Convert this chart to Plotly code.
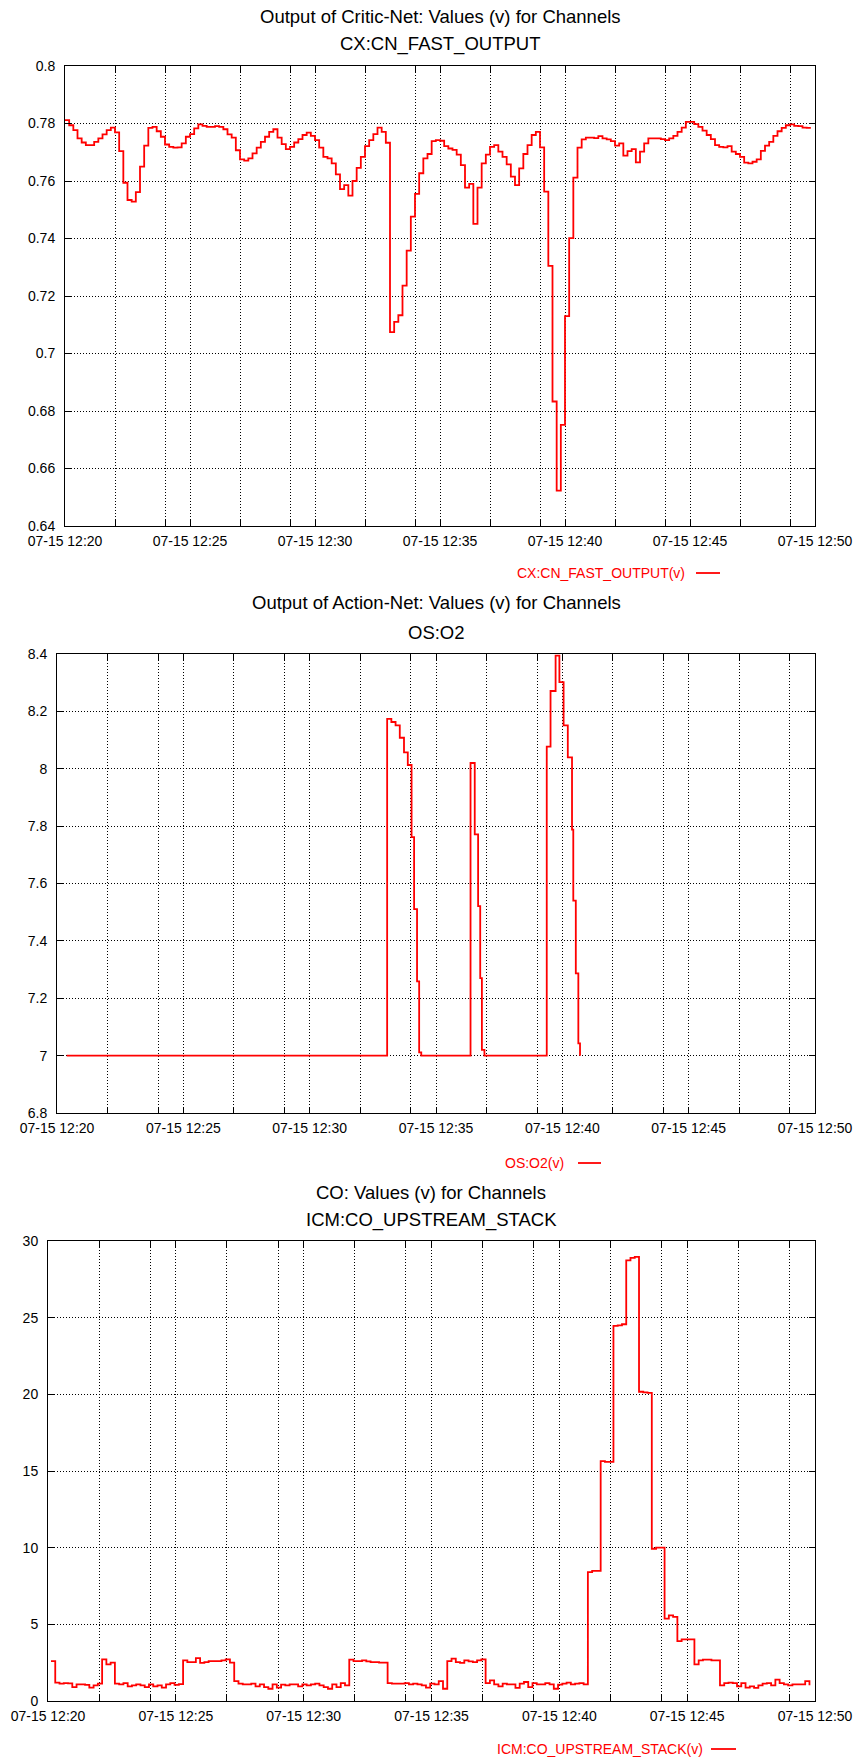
import pandas as pd
import plotly.graph_objects as go

W, H = 854, 1762

# ---------------- data ----------------
critic_start = "2024-07-15 12:20:00"
critic_values = [
    0.7812, 0.7794, 0.7777, 0.7748, 0.7734, 0.7725, 0.7725, 0.7736, 0.7748, 0.7762,
    0.7777, 0.7786, 0.7769, 0.7704, 0.7594, 0.7534, 0.7528, 0.7561, 0.7650, 0.7723,
    0.7785, 0.7788, 0.7773, 0.7754, 0.7727, 0.7719, 0.7716, 0.7717, 0.7731, 0.7754,
    0.7763, 0.7783, 0.7797, 0.7792, 0.7788, 0.7788, 0.7791, 0.7788, 0.7780, 0.7762,
    0.7751, 0.7707, 0.7675, 0.7671, 0.7679, 0.7696, 0.7716, 0.7736, 0.7754, 0.7771,
    0.7780, 0.7751, 0.7728, 0.7711, 0.7719, 0.7734, 0.7746, 0.7760, 0.7768, 0.7757,
    0.7742, 0.7716, 0.7684, 0.7679, 0.7661, 0.7623, 0.7572, 0.7586, 0.7549, 0.7600,
    0.7646, 0.7684, 0.7721, 0.7742, 0.7763, 0.7786, 0.7771, 0.7733, 0.7074, 0.7110,
    0.7133, 0.7236, 0.7358, 0.7476, 0.7555, 0.7627, 0.7679, 0.7694, 0.7739, 0.7742,
    0.7740, 0.7721, 0.7713, 0.7708, 0.7692, 0.7655, 0.7577, 0.7590, 0.7451, 0.7577,
    0.7661, 0.7692, 0.7719, 0.7725, 0.7702, 0.7684, 0.7658, 0.7615, 0.7586, 0.7644,
    0.7694, 0.7725, 0.7760, 0.7771, 0.7717, 0.7563, 0.7305, 0.6833, 0.6523, 0.6752,
    0.7130, 0.7401, 0.7612, 0.7716, 0.7745, 0.7751, 0.7751, 0.7749, 0.7756, 0.7748,
    0.7745, 0.7739, 0.7723, 0.7731, 0.7688, 0.7704, 0.7711, 0.7665, 0.7702, 0.7731,
    0.7748, 0.7748, 0.7748, 0.7746, 0.7742, 0.7748, 0.7757, 0.7771, 0.7786, 0.7806,
    0.7806, 0.7798, 0.7788, 0.7775, 0.7760, 0.7746, 0.7725, 0.7719, 0.7717, 0.7721,
    0.7702, 0.7694, 0.7684, 0.7664, 0.7661, 0.7667, 0.7675, 0.7705, 0.7723, 0.7736,
    0.7757, 0.7773, 0.7785, 0.7794, 0.7797, 0.7792, 0.7791, 0.7786, 0.7785, 0.7785,
]

o2_times = [
    "12:20:23", "12:33:04", "12:33:14", "12:33:24", "12:33:34", "12:33:44",
    "12:33:53", "12:34:02", "12:34:08", "12:34:15", "12:34:20", "12:34:25",
    "12:36:22", "12:36:32", "12:36:40", "12:36:45", "12:36:49", "12:36:55",
    "12:39:23", "12:39:32", "12:39:44", "12:39:53", "12:40:03", "12:40:13",
    "12:40:23", "12:40:26", "12:40:32", "12:40:38", "12:40:42",
]
o2_values = [
    7.0, 8.174, 8.163, 8.151, 8.108, 8.057,
    8.013, 7.762, 7.511, 7.259, 7.011, 7.0,
    8.02, 7.771, 7.521, 7.27, 7.02, 7.0,
    8.077, 8.271, 8.394, 8.302, 8.151, 8.04,
    7.788, 7.54, 7.287, 7.043, 7.0,
]

co_start = "2024-07-15 12:20:07"
co_values = [
    2.60, 1.20, 1.13, 1.17, 1.15, 0.91, 1.09, 1.09, 1.05, 0.87,
    1.02, 1.13, 2.72, 2.39, 2.50, 1.13, 1.09, 1.17, 0.96, 1.02,
    1.09, 1.02, 0.91, 1.09, 0.96, 1.02, 0.87, 1.09, 1.17, 1.05,
    1.10, 2.65, 2.54, 2.54, 2.80, 2.48, 2.54, 2.60, 2.60, 2.60,
    2.65, 2.72, 2.50, 1.30, 1.13, 1.09, 1.09, 1.13, 0.96, 1.09,
    0.91, 0.80, 1.09, 0.87, 1.07, 1.02, 1.09, 1.09, 0.96, 1.09,
    1.02, 1.09, 1.13, 1.02, 0.91, 0.80, 1.09, 0.91, 1.17, 1.02,
    2.70, 2.60, 2.60, 2.65, 2.59, 2.54, 2.54, 2.50, 2.50, 1.17,
    1.13, 1.13, 1.13, 1.17, 1.09, 1.13, 1.09, 1.02, 0.87, 1.13,
    1.09, 1.30, 0.80, 2.60, 2.76, 2.54, 2.48, 2.65, 2.59, 2.54,
    2.65, 2.72, 1.17, 1.35, 1.09, 0.96, 1.13, 1.09, 1.09, 0.85,
    1.13, 1.24, 0.91, 1.17, 1.09, 1.09, 1.17, 1.09, 0.80, 1.07,
    1.13, 1.20, 1.09, 1.13, 1.17, 1.09, 8.41, 8.48, 8.48, 15.65,
    15.60, 15.60, 24.46, 24.50, 24.57, 28.74, 28.90, 28.96, 20.17, 20.13,
    20.09, 9.93, 10.00, 10.00, 5.37, 5.59, 5.48, 3.91, 4.02, 4.02,
    4.02, 2.39, 2.65, 2.70, 2.70, 2.65, 2.65, 1.02, 1.17, 1.20,
    1.17, 0.96, 1.17, 0.87, 0.96, 0.85, 1.02, 1.13, 1.17, 1.02,
    1.39, 1.17, 1.09, 1.02, 1.09, 1.09, 1.09, 1.30, 1.02,
]

grid_minutes = [20, 22, 24, 25, 27, 29, 30, 32, 34, 35, 37, 39, 40, 42, 44, 45, 47, 49, 50]
label_minutes = [20, 25, 30, 35, 40, 45, 50]

critic_ticks = [0.64, 0.66, 0.68, 0.70, 0.72, 0.74, 0.76, 0.78, 0.80]
critic_ticktext = ["0.64", "0.66", "0.68", "0.7", "0.72", "0.74", "0.76", "0.78", "0.8"]
o2_ticks = [6.8, 7.0, 7.2, 7.4, 7.6, 7.8, 8.0, 8.2, 8.4]
o2_ticktext = ["6.8", "7", "7.2", "7.4", "7.6", "7.8", "8", "8.2", "8.4"]
co_ticks = [0, 5, 10, 15, 20, 25, 30]
co_ticktext = ["0", "5", "10", "15", "20", "25", "30"]

titles = [
    ("Output of Critic-Net: Values (v) for Channels", "CX:CN_FAST_OUTPUT"),
    ("Output of Action-Net: Values (v) for Channels", "OS:O2"),
    ("CO: Values (v) for Channels", "ICM:CO_UPSTREAM_STACK"),
]
legend_names = ["CX:CN_FAST_OUTPUT(v)", "OS:O2(v)", "ICM:CO_UPSTREAM_STACK(v)"]

# ---------------- build ----------------
day = "2024-07-15 "
critic_times = pd.date_range(critic_start, periods=len(critic_values), freq="10s")
co_times = pd.date_range(co_start, periods=len(co_values), freq="10s")
o2_dt = [pd.Timestamp(day + t) for t in o2_times]

grid_vals = [pd.Timestamp(day + "12:%02d:00" % m) for m in grid_minutes]
grid_text = ["07-15 12:%02d" % m if m in label_minutes else "" for m in grid_minutes]

FONT = "Liberation Sans, Arial, Helvetica, sans-serif"
RED = "#ff0000"

# pixel boxes of the three plot areas: (left, right, top, bottom)
boxes = [(65, 815, 66, 526), (57, 815, 654, 1113), (48, 815, 1241, 1701)]
title_y = [(16, 44), (603, 632), (1192, 1220)]
legend_pos = [  # text right edge, line x0, line x1, y
    (687, 696, 720, 573),
    (566, 578, 601, 1163),
    (705, 711, 736, 1749),
]

def px(x):
    return x / W

def py(y):
    return 1 - y / H

fig = go.Figure()
series = [
    (critic_times, critic_values),
    (o2_dt, o2_values),
    (co_times, co_values),
]
yinfo = [
    ([0.64, 0.80], critic_ticks, critic_ticktext),
    ([6.8, 8.4], o2_ticks, o2_ticktext),
    ([0, 30], co_ticks, co_ticktext),
]

annotations = []
shapes = []
for i, ((xs, ys), (yr, tv, tt), box) in enumerate(zip(series, yinfo, boxes)):
    n = "" if i == 0 else str(i + 1)
    fig.add_trace(go.Scatter(
        x=xs, y=ys, mode="lines", line=dict(color=RED, width=1.8, shape="hv"),
        xaxis="x" + n, yaxis="y" + n, showlegend=False, hoverinfo="skip",
    ))
    l, r, t, b = box
    common = dict(
        showline=True, linecolor="black", linewidth=1, mirror="allticks",
        ticks="inside", ticklen=6, tickcolor="black", tickwidth=1,
        showgrid=True, gridcolor="#000", gridwidth=1, griddash="1px,2px",
        zeroline=False, tickfont=dict(family=FONT, size=14, color="black"),
        automargin=False, fixedrange=True,
    )
    fig.layout["xaxis" + n] = dict(
        common, domain=[px(l), px(r)], anchor="y" + n, type="date",
        range=[pd.Timestamp(day + "12:20:00"), pd.Timestamp(day + "12:50:00")],
        tickmode="array", tickvals=grid_vals, ticktext=grid_text,
        ticklabeloverflow="allow", ticklabelstandoff=2,
    )
    fig.layout["yaxis" + n] = dict(
        common, domain=[py(b), py(t)], anchor="x" + n,
        range=yr, tickmode="array", tickvals=tv, ticktext=tt,
        ticklabelstandoff=6,
    )
    cx = px((l + r) / 2)
    for txt, yy in zip(titles[i], title_y[i]):
        annotations.append(dict(
            text=txt, x=cx, y=py(yy), xref="paper", yref="paper",
            xanchor="center", yanchor="middle", showarrow=False,
            font=dict(family=FONT, size=18.5, color="black"),
        ))
    tr, lx0, lx1, ly = legend_pos[i]
    annotations.append(dict(
        text=legend_names[i], x=px(tr), y=py(ly), xref="paper", yref="paper",
        xanchor="right", yanchor="middle", showarrow=False,
        font=dict(family=FONT, size=14, color=RED),
    ))
    shapes.append(dict(
        type="line", xref="paper", yref="paper",
        x0=px(lx0), x1=px(lx1), y0=py(ly), y1=py(ly),
        line=dict(color=RED, width=1.8),
    ))

fig.update_layout(
    width=W, height=H, margin=dict(l=0, r=0, t=0, b=0, pad=0),
    paper_bgcolor="white", plot_bgcolor="white",
    annotations=annotations, shapes=shapes, showlegend=False,
)

fig.write_html(
    "out.html",
    config=dict(displayModeBar=False, staticPlot=True),
    post_script=(
        "document.documentElement.style.margin='0';"
        "document.body.style.margin='0';"
        "document.body.style.overflow='hidden';"
        "document.documentElement.style.overflow='hidden';"
    ),
)
